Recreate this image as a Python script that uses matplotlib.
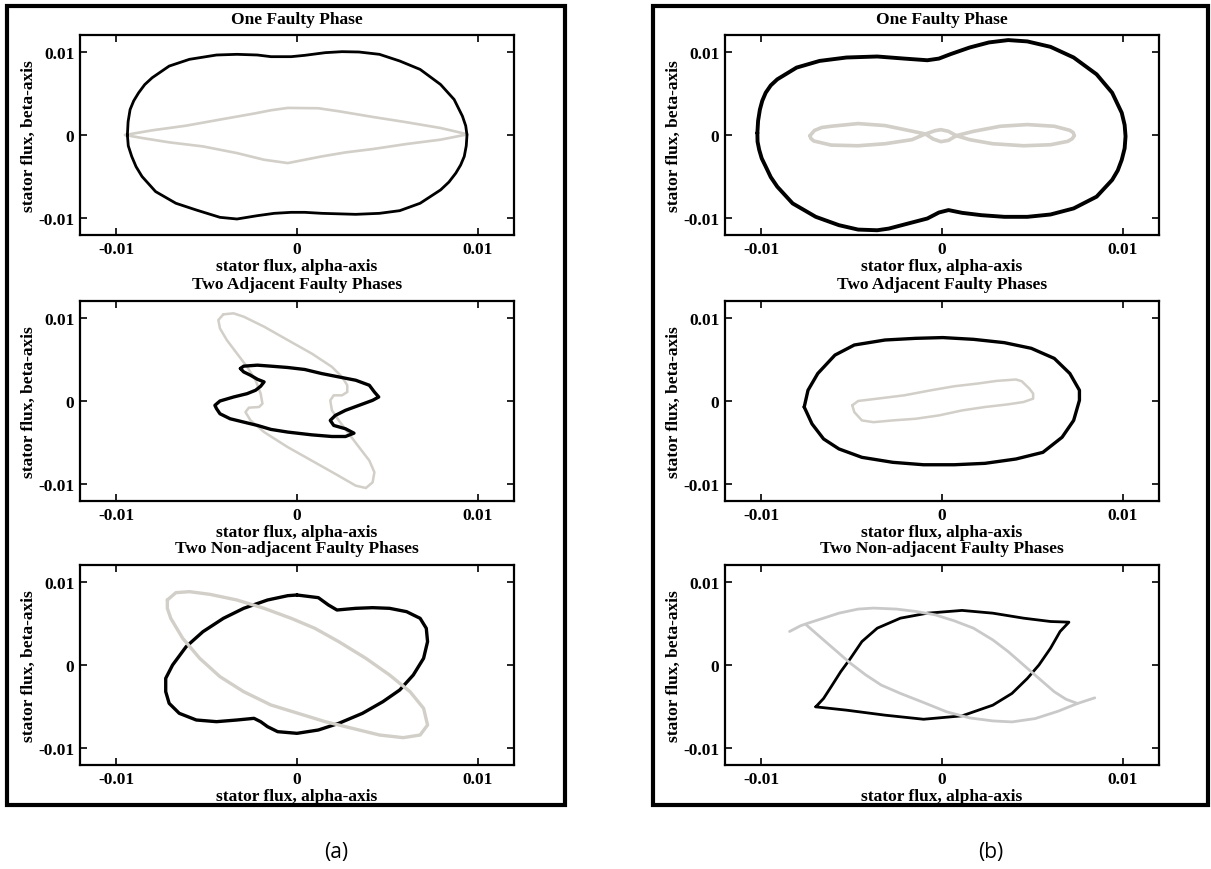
import numpy as np
import matplotlib
matplotlib.use("Agg")
import matplotlib.pyplot as plt
from matplotlib.patches import Rectangle

plt.rcParams['font.family'] = ['Liberation Serif', 'DejaVu Serif']
plt.rcParams['axes.unicode_minus'] = False

# ---- data (values in units of 1e-3) ----
# (a) One Faulty Phase
a1_blk_x = [-9.38, -9.34, -9.23, -9.03, -8.76, -8.42, -8.01, -7.07, -5.95, -4.45, -3.32, -2.19, -1.44, -0.32, 0.43,
            1.56, 2.49, 3.43, 4.56, 5.68, 6.81, 7.94, 8.69, 9.15, 9.33, 9.40, 9.36, 9.25, 9.05, 8.78, 8.40, 7.94,
            6.81, 5.68, 4.56, 3.25, 1.37, 0.43, -0.32, -1.26, -2.19, -3.32, -4.26, -5.57, -6.70, -7.82, -8.57,
            -8.90, -9.14, -9.33]
a1_blk_y = [0.0, 1.60, 3.05, 4.10, 5.06, 6.05, 6.87, 8.27, 9.08, 9.60, 9.68, 9.60, 9.40, 9.40, 9.56,
            9.88, 10.0, 9.96, 9.68, 8.88, 7.87, 6.06, 4.26, 2.25, 1.10, 0.0, -1.30, -2.57, -3.60, -4.58, -5.65, -6.59,
            -8.19, -9.08, -9.40, -9.52, -9.40, -9.28, -9.28, -9.40, -9.68, -10.08, -9.88, -9.00, -8.19, -6.79, -4.98,
            -3.80, -2.57, -1.30]
a1_gry_x = [-9.51, -8.01, -6.13, -4.26, -2.38, -1.44, -0.51, 1.18, 2.31, 4.18, 6.06, 7.94, 9.44,
            7.94, 6.06, 4.18, 2.68, 1.37, 0.43, -0.51, -1.82, -3.32, -5.20, -7.07, -8.57]
a1_gry_y = [0.0, 0.56, 1.12, 1.85, 2.57, 2.97, 3.25, 3.21, 2.85, 2.17, 1.53, 0.84, 0.08,
            -0.56, -1.08, -1.69, -2.09, -2.57, -2.97, -3.37, -2.97, -2.17, -1.37, -0.88, -0.36]

# (a) Two Adjacent Faulty Phases
a2_blk_x = [-3.13, -2.95, -2.19, -1.44, -0.51, 0.43, 1.37, 2.31, 3.25, 4.00, 4.28, 4.52, 4.18, 3.43, 2.68, 2.12,
            1.84, 2.03, 2.68, 3.15, 2.68, 1.93, 0.81, -0.51, -1.44, -2.19, -2.95, -3.70, -4.26, -4.45, -4.54,
            -4.26, -3.51, -2.76, -2.29, -2.01, -1.82, -2.19, -2.57, -2.95]
a2_blk_y = [3.90, 4.18, 4.30, 4.18, 4.02, 3.78, 3.29, 2.89, 2.49, 1.89, 1.08, 0.48, 0.08, -0.52, -1.12, -1.73,
            -2.33, -2.93, -3.33, -3.86, -4.26, -4.26, -4.06, -3.73, -3.41, -2.93, -2.53, -2.13, -1.53, -0.92, -0.52,
            0.0, 0.48, 0.88, 1.29, 1.77, 2.29, 2.61, 3.09, 3.49]
a2_gry_x = [-4.07, -3.51, -2.95, -1.82, -0.51, 0.81, 1.93, 2.49, 2.78, 2.78, 2.49, 2.03, 1.84, 1.93, 2.31, 2.87,
            3.43, 4.00, 4.28, 4.18, 3.81, 3.25, 2.12, 0.81, -0.51, -1.82, -2.57, -2.85, -2.66, -2.10, -1.91,
            -2.01, -2.29, -2.76, -3.32, -3.88, -4.26, -4.35]
a2_gry_y = [10.40, 10.52, 10.12, 8.92, 7.31, 5.70, 4.10, 2.89, 1.89, 1.08, 0.68, 0.68, 0.08, -1.12, -2.33, -3.94,
            -5.54, -7.15, -8.55, -9.76, -10.44, -10.16, -8.75, -7.15, -5.54, -3.73, -2.33, -1.33, -0.80, -0.72, -0.32,
            0.88, 2.49, 4.10, 5.70, 7.31, 8.71, 9.72]

# (a) Two Non-adjacent Faulty Phases
a3_blk_x = [0.0, 1.18, 1.74, 2.21, 3.25, 4.18, 5.12, 6.06, 6.81, 7.15, 7.22, 7.00, 6.43, 5.68, 4.75, 3.62, 2.31,
            1.18, 0.0, -1.07, -1.63, -2.01, -2.38, -3.32, -4.45, -5.57, -6.51, -7.07, -7.26, -7.26, -6.88, -6.13,
            -5.20, -4.07, -2.95, -1.63, -0.51]
a3_blk_y = [8.40, 8.08, 7.20, 6.60, 6.80, 6.88, 6.80, 6.40, 5.60, 4.40, 2.80, 0.80, -1.20, -3.00, -4.40, -5.80, -7.00,
            -7.80, -8.20, -8.00, -7.40, -6.80, -6.40, -6.60, -6.80, -6.60, -5.80, -4.60, -3.20, -1.60, 0.0, 2.20,
            4.00, 5.60, 6.80, 7.80, 8.32]
a3_gry_x = [-7.17, -6.70, -5.95, -4.82, -3.32, -1.82, -0.32, 0.99, 2.31, 3.81, 5.12, 6.25, 7.00, 7.22, 6.81, 5.87,
            4.56, 3.06, 1.56, 0.06, -1.44, -2.95, -4.26, -5.38, -6.32, -6.98, -7.17]
a3_gry_y = [7.80, 8.68, 8.80, 8.48, 7.80, 6.80, 5.60, 4.40, 2.80, 0.80, -1.20, -3.20, -5.20, -7.20, -8.40, -8.72,
            -8.40, -7.60, -6.80, -5.80, -4.80, -3.20, -1.40, 0.80, 3.20, 5.60, 6.80]

# (b) One Faulty Phase
b1_blk_x = [-10.21, -10.17, -10.07, -9.94, -9.75, -9.47, -9.11, -8.04, -6.77, -5.28, -3.58, -2.09, -0.81, -0.17,
            0.47, 1.53, 2.60, 3.66, 4.72, 6.00, 7.28, 8.55, 9.41, 9.94, 10.10, 10.15, 10.10, 9.94, 9.72, 9.41, 8.55,
            7.28, 6.00, 4.72, 3.45, 2.17, 1.11, 0.36, -0.17, -0.81, -1.87, -2.94, -3.58, -4.64, -5.70, -6.98, -8.26,
            -9.11, -9.47, -9.75, -9.97, -10.11, -10.20]
b1_blk_y = [0.24, 1.70, 3.06, 4.10, 5.07, 5.95, 6.68, 8.09, 8.89, 9.30, 9.42, 9.17, 8.97, 9.17,
            9.70, 10.50, 11.11, 11.39, 11.23, 10.58, 9.30, 7.28, 5.07, 2.66, 1.20, -0.16, -1.60, -2.98, -4.25, -5.39,
            -7.40, -8.81, -9.54, -9.82, -9.82, -9.62, -9.34, -9.01, -9.30, -10.02, -10.62, -11.23, -11.43, -11.35,
            -10.82, -9.82, -8.21, -6.20, -5.05, -3.78, -2.80, -1.77, -0.80]
b1_gry_x = [-7.30, -7.05, -6.65, -6.13, -4.64, -3.15, -1.87, -0.92, -0.49, -0.06, 0.36, 0.79, 1.74, 3.23, 4.72,
            6.21, 7.07, 7.25, 7.32, 7.20, 6.96, 6.00, 4.51, 2.81, 1.53, 0.79, 0.36, -0.06, -0.38, -0.92, -1.66,
            -3.15, -4.64, -6.13, -7.09, -7.25]
b1_gry_y = [-0.08, 0.55, 0.90, 1.05, 1.37, 1.13, 0.56, 0.12, -0.48, -0.80, -0.64, -0.08, 0.44, 1.05, 1.25,
            1.05, 0.56, 0.30, -0.08, -0.45, -0.76, -1.17, -1.29, -1.05, -0.56, -0.08, 0.44, 0.64, 0.52, 0.12, -0.56,
            -1.05, -1.29, -1.21, -0.72, -0.42]

# (b) Two Adjacent Faulty Phases
b2_blk_x = [-7.62, -7.41, -6.87, -5.92, -4.85, -3.15, -1.45, 0.04, 1.74, 3.45, 4.94, 6.21, 7.07, 7.60, 7.60, 7.28,
            6.64, 5.58, 4.09, 2.38, 0.68, -1.02, -2.72, -4.43, -5.70, -6.55, -7.19]
b2_blk_y = [-0.72, 1.29, 3.30, 5.51, 6.72, 7.32, 7.52, 7.61, 7.40, 7.00, 6.32, 5.11, 3.30, 1.29, 0.08, -2.33,
            -4.35, -6.16, -6.96, -7.48, -7.65, -7.65, -7.36, -6.76, -5.75, -4.55, -2.74]
b2_gry_x = [-4.96, -4.64, -3.58, -2.09, -0.60, 0.68, 1.96, 3.02, 4.09, 4.41, 4.83, 5.04, 5.04, 4.51, 3.66, 2.38,
            1.11, -0.17, -1.45, -2.72, -3.79, -4.43, -4.85]
b2_gry_y = [-0.52, 0.0, 0.28, 0.68, 1.29, 1.77, 2.09, 2.41, 2.58, 2.37, 1.49, 0.89, 0.28, -0.12, -0.40, -0.72,
            -1.13, -1.73, -2.13, -2.33, -2.54, -2.33, -1.33]

# (b) Two Non-adjacent Faulty Phases
b3_blk_x = [-6.98, -6.55, -6.13, -5.60, -5.06, -4.43, -3.58, -2.30, -0.81, 1.11, 2.81, 4.51, 6.00, 7.02, 6.53, 6.00,
            5.36, 4.72, 3.87, 2.81, 1.11, -1.02, -3.15, -5.28]
b3_blk_y = [-5.02, -4.02, -2.61, -0.80, 0.80, 2.81, 4.42, 5.62, 6.22, 6.55, 6.22, 5.62, 5.22, 5.14, 4.02, 2.01,
            0.0, -1.61, -3.41, -4.82, -6.10, -6.51, -6.02, -5.42]
b3_gry_top_x = [-8.43, -7.83, -7.41, -6.55, -5.70, -4.64, -3.79, -2.51, -1.45, -0.38, 0.68, 1.74, 2.81, 3.66, 4.51,
                5.36, 6.21, 6.85, 7.49]
b3_gry_top_y = [4.02, 4.70, 5.02, 5.62, 6.22, 6.71, 6.83, 6.71, 6.43, 6.02, 5.30, 4.42, 3.01, 1.61, 0.0,
                -1.61, -3.21, -4.10, -4.62]
b3_gry_bot_x = [-7.51, -6.98, -6.34, -5.70, -5.06, -4.21, -3.36, -2.30, -1.02, 0.26, 1.53, 2.81, 3.87, 5.15, 6.43,
                7.49, 8.45]
b3_gry_bot_y = [4.82, 3.82, 2.61, 1.41, 0.20, -1.20, -2.41, -3.41, -4.50, -5.62, -6.35, -6.71, -6.83, -6.43, -5.54,
                -4.62, -3.94]

titles = ["One Faulty Phase", "Two Adjacent Faulty Phases", "Two Non-adjacent Faulty Phases"]
ticks = [-0.01, 0.0, 0.01]
tick_labels = ["-0.01", "0", "0.01"]
panel_labels = ["(a)", "(b)"]

UNIT = 1e-3
BLACK = "#000000"
GRAY = "#d2cec8"
GRAY2 = "#c9c9c9"


def closed(x, y):
    x = list(x) + [x[0]]
    y = list(y) + [y[0]]
    return np.asarray(x) * UNIT, np.asarray(y) * UNIT


fig = plt.figure(figsize=(12.11, 8.70), dpi=100)

# outer boxes
for x0, x1 in [(7, 565), (653, 1208)]:
    fig.patches.append(Rectangle((x0 / 1211, 1 - 806 / 870), (x1 - x0) / 1211, (806 - 7) / 870,
                                 transform=fig.transFigure, fill=False, lw=3.0, ec="black", zorder=0))

col_left = [80 / 1211, 725 / 1211]
width = 434 / 1211
row_tops = [36, 302, 566]
height = 200 / 870

curves = {
    (0, 0): [(closed(a1_gry_x, a1_gry_y), GRAY, 1.9), (closed(a1_blk_x, a1_blk_y), BLACK, 2.0)],
    (1, 0): [(closed(a2_gry_x, a2_gry_y), GRAY, 1.8), (closed(a2_blk_x, a2_blk_y), BLACK, 2.4)],
    (2, 0): [(closed(a3_blk_x, a3_blk_y), BLACK, 2.4), (closed(a3_gry_x, a3_gry_y), GRAY, 2.4)],
    (0, 1): [(closed(b1_blk_x, b1_blk_y), BLACK, 2.8), (closed(b1_gry_x, b1_gry_y), GRAY, 2.6)],
    (1, 1): [(closed(b2_blk_x, b2_blk_y), BLACK, 2.4), (closed(b2_gry_x, b2_gry_y), GRAY, 1.8)],
    (2, 1): [(closed(b3_blk_x, b3_blk_y), BLACK, 2.0),
             ((np.asarray(b3_gry_top_x) * UNIT, np.asarray(b3_gry_top_y) * UNIT), GRAY2, 2.0),
             ((np.asarray(b3_gry_bot_x) * UNIT, np.asarray(b3_gry_bot_y) * UNIT), GRAY2, 2.0)],
}

for c in range(2):
    for r in range(3):
        top = row_tops[r]
        ax = fig.add_axes([col_left[c], 1 - (top + 200) / 870, width, height])
        for (xs, ys), color, lw in curves[(r, c)]:
            ax.plot(xs, ys, color=color, lw=lw, solid_joinstyle="round", solid_capstyle="round")
        ax.set_xlim(-0.012, 0.012)
        ax.set_ylim(-0.012, 0.012)
        ax.set_xticks(ticks)
        ax.set_yticks(ticks)
        ax.set_xticklabels(tick_labels, fontweight="bold", fontsize=12.5)
        ax.set_yticklabels(tick_labels, fontweight="bold", fontsize=12.5)
        ax.tick_params(direction="in", top=True, right=True, length=5, width=1.2, pad=4)
        for s in ax.spines.values():
            s.set_linewidth(1.6)
        ax.set_title(titles[r], fontweight="bold", fontsize=12.5, pad=9)
        ax.set_xlabel("stator flux, alpha-axis", fontweight="bold", fontsize=12.5, labelpad=1)
        ax.set_ylabel("stator flux, beta-axis", fontweight="bold", fontsize=12.5, labelpad=1)

fig.text(336 / 1211, 1 - 853 / 870, panel_labels[0], ha="center", va="center", fontsize=15, family="Open Sans")
fig.text(991 / 1211, 1 - 853 / 870, panel_labels[1], ha="center", va="center", fontsize=15, family="Open Sans")

fig.savefig("out.png", dpi=100)
